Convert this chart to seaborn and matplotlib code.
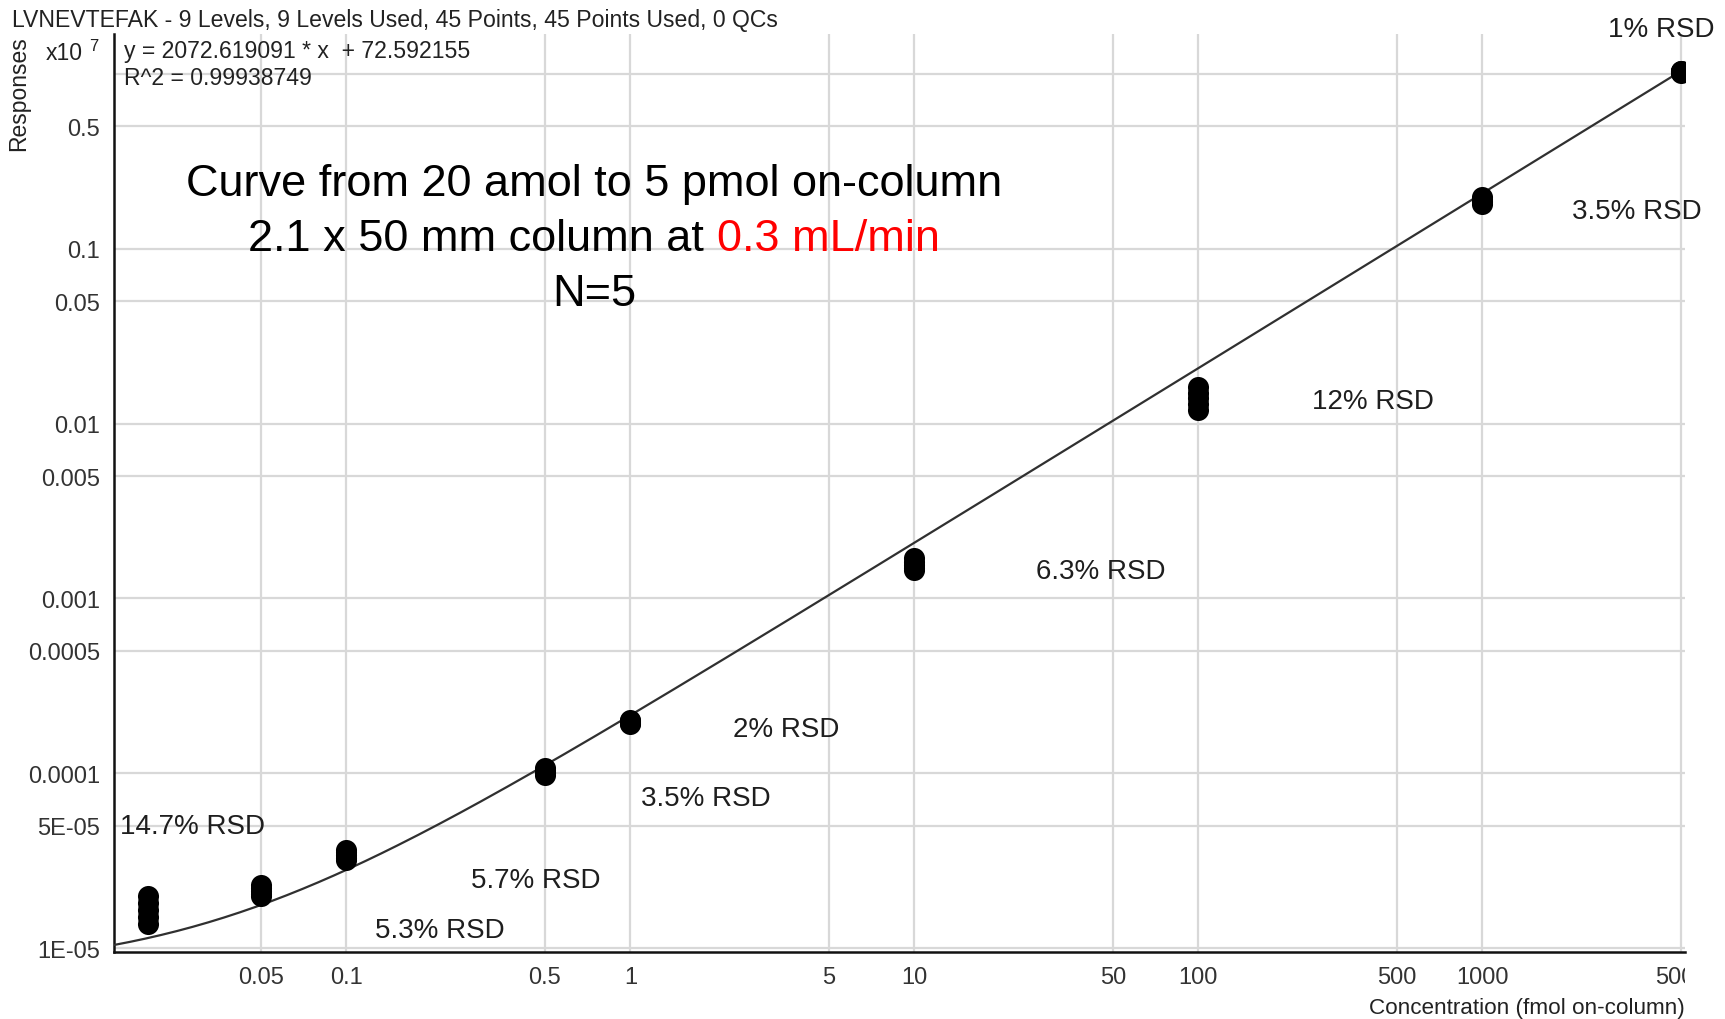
import numpy as np
import pandas as pd
import matplotlib
matplotlib.use("Agg")
import matplotlib.pyplot as plt
from matplotlib.patches import Rectangle
import seaborn as sns

# Calibration levels (fmol on-column) and replicate responses (x10^7), N=5
conc_levels = [0.02, 0.05, 0.1, 0.5, 1, 10, 100, 1000, 5000]
resp_0p02 = [1.98e-5, 1.80e-5, 1.64e-5, 1.50e-5, 1.38e-5]
resp_0p05 = [2.28e-5, 2.20e-5, 2.12e-5, 2.05e-5, 1.99e-5]
resp_0p1 = [3.65e-5, 3.52e-5, 3.40e-5, 3.28e-5, 3.18e-5]
resp_0p5 = [1.07e-4, 1.04e-4, 1.02e-4, 1.00e-4, 0.98e-4]
resp_1 = [2.01e-4, 1.98e-4, 1.96e-4, 1.93e-4, 1.91e-4]
resp_10 = [1.70e-3, 1.62e-3, 1.56e-3, 1.50e-3, 1.45e-3]
resp_100 = [1.62e-2, 1.50e-2, 1.40e-2, 1.29e-2, 1.19e-2]
resp_1000 = [0.197, 0.192, 0.188, 0.184, 0.181]
resp_5000 = [1.045, 1.035, 1.03, 1.025, 1.015]
replicates = [resp_0p02, resp_0p05, resp_0p1, resp_0p5, resp_1,
              resp_10, resp_100, resp_1000, resp_5000]

rsd_labels = ["14.7% RSD", "5.3% RSD", "5.7% RSD", "3.5% RSD", "2% RSD",
              "6.3% RSD", "12% RSD", "3.5% RSD", "1% RSD"]

# Linear fit reported by the quantitation software
slope = 2072.619091
intercept = 72.592155
r_squared = 0.99938749
resp_scale = 1e7

x_ticks = [0.05, 0.1, 0.5, 1, 5, 10, 50, 100, 500, 1000, 5000]
x_tick_labels = ["0.05", "0.1", "0.5", "1", "5", "10", "50", "100", "500", "1000", "5000"]
y_ticks = [1e-5, 5e-5, 1e-4, 5e-4, 1e-3, 5e-3, 1e-2, 5e-2, 0.1, 0.5, 1]
y_tick_labels = ["1E-05", "5E-05", "0.0001", "0.0005", "0.001", "0.005",
                 "0.01", "0.05", "0.1", "0.5", ""]

header = "LVNEVTEFAK - 9 Levels, 9 Levels Used, 45 Points, 45 Points Used, 0 QCs"
title_line1 = "Curve from 20 amol to 5 pmol on-column"
title_line2 = "2.1 x 50 mm column at "
title_flow = "0.3 mL/min"
title_line3 = "N=5"

# ---------------------------------------------------------------------------
sns.set_style("white")
plt.rcParams["font.family"] = ["Liberation Sans", "DejaVu Sans"]

W, H = 1725, 1020
fig = plt.figure(figsize=(W / 100, H / 100), dpi=100)


def fx(px):
    return px / W


def fy(py):
    return 1 - py / H


ax_left, ax_right, ax_top, ax_bottom = 114, 1685, 35, 953
ax = fig.add_axes([fx(ax_left), fy(ax_bottom), fx(ax_right) - fx(ax_left),
                   fy(ax_top) - fy(ax_bottom)])

df = pd.DataFrame({
    "conc": np.repeat(conc_levels, [len(r) for r in replicates]),
    "resp": np.concatenate(replicates),
})

x_min, x_max = 0.0152, 5170
x_fit = np.geomspace(x_min, conc_levels[-1], 300)
y_fit = (slope * x_fit + intercept) / resp_scale

sns.lineplot(x=x_fit, y=y_fit, color="#303030", linewidth=1.6, ax=ax, zorder=3)
sns.scatterplot(data=df, x="conc", y="resp", color="black", s=230,
                linewidth=0, ax=ax, zorder=4)

ax.set_xscale("log")
ax.set_yscale("log")
ax.set_xlim(x_min, x_max)
ax.set_ylim(0.949e-5, 1.69)

ax.set_xticks(x_ticks)
ax.set_xticklabels(x_tick_labels)
ax.set_yticks(y_ticks)
ax.set_yticklabels(y_tick_labels)
ax.minorticks_off()
ax.tick_params(axis="both", which="major", direction="out", length=7,
               width=1.2, color="#222222", labelsize=17, labelcolor="#333333",
               pad=3)
ax.grid(True, which="major", color="#d8d8d8", linewidth=1.6)
ax.set_axisbelow(True)
for side in ["top", "right"]:
    ax.spines[side].set_visible(False)
for side in ["left", "bottom"]:
    ax.spines[side].set_color("#111111")
    ax.spines[side].set_linewidth(1.8)
ax.set_xlabel("")
ax.set_ylabel("")

# The last concentration label is cut at the right end of the axis
clip_rect = Rectangle((0, 0), fx(ax_right), 1, transform=fig.transFigure)
for tick in ax.xaxis.get_major_ticks():
    tick.label1.set_clip_on(True)
    tick.label1.set_clip_path(clip_rect)

# RSD annotations next to each calibration level
rsd_pos = [(0.01597, 4.55e-5), (0.1259, 1.156e-5), (0.2746, 2.234e-5),
           (1.094, 6.58e-5), (2.29, 1.632e-4), (26.9, 1.309e-3),
           (251, 1.227e-2), (2063, 0.150), (2765, 1.650)]
for label, (lx, ly) in zip(rsd_labels, rsd_pos):
    ax.text(lx, ly, label, fontsize=20, color="#1e1e1e", ha="left",
            va="baseline", clip_on=False, zorder=5)

# Header, equation and axis titles
fig.text(fx(12), fy(27), header, fontsize=16.6, color="#222222", va="baseline")
fig.text(fx(124), fy(58), f"y = {slope:.6f} * x  + {intercept:.6f}",
         fontsize=16.6, color="#222222", va="baseline")
fig.text(fx(124), fy(85), f"R^2 = {r_squared:.8f}",
         fontsize=16.6, color="#222222", va="baseline")
fig.text(fx(46), fy(60), "x10", fontsize=16.5, color="#222222", va="baseline")
fig.text(fx(89), fy(51), "7", fontsize=12, color="#222222", va="baseline")
fig.text(fx(30), fy(94), "Responses", fontsize=16.5, color="#222222",
         rotation=90, ha="right", va="center")
fig.text(fx(ax_right), fy(1014), "Concentration (fmol on-column)",
         fontsize=16.2, color="#222222", ha="right", va="baseline")

# Multi-line title with the flow rate highlighted in red
title_size = 32.5
fig.text(fx(594), fy(196), title_line1, fontsize=title_size, color="black",
         ha="center", va="baseline")
fig.text(fx(594), fy(306), title_line3, fontsize=title_size, color="black",
         ha="center", va="baseline")
t_black = fig.text(0, fy(251), title_line2, fontsize=title_size, color="black",
                   ha="left", va="baseline")
t_red = fig.text(0, fy(251), title_flow, fontsize=title_size, color="#ff0000",
                 ha="left", va="baseline")
renderer = fig.canvas.get_renderer()
w_black = t_black.get_window_extent(renderer).width
w_red = t_red.get_window_extent(renderer).width
x0 = 594 - (w_black + w_red) / 2
t_black.set_x(fx(x0))
t_red.set_x(fx(x0 + w_black))

fig.savefig("out.png", dpi=100, facecolor="white")
